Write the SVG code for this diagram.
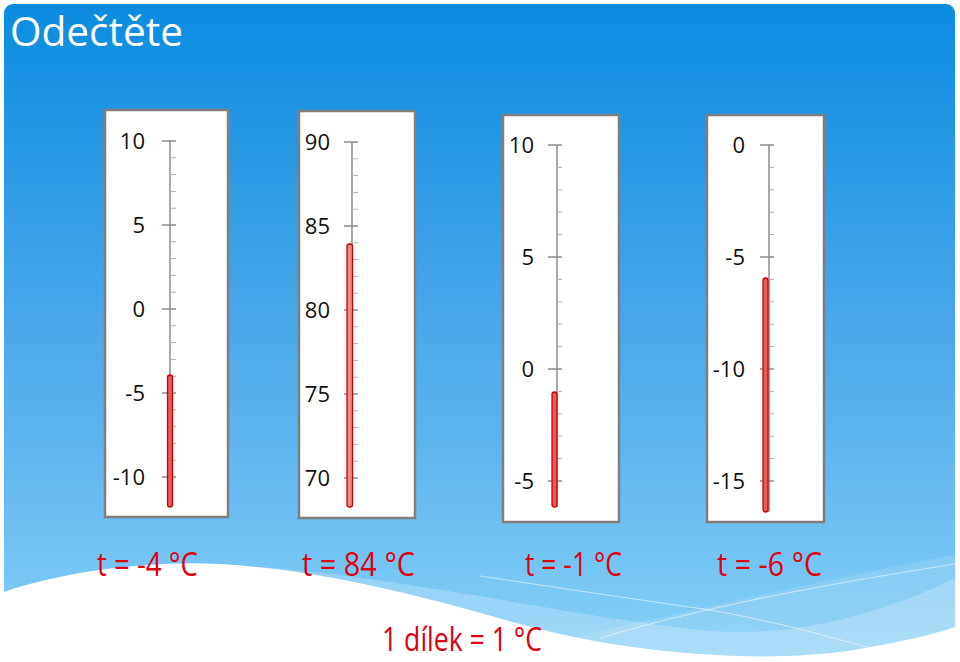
<svg xmlns="http://www.w3.org/2000/svg" width="960" height="662" viewBox="0 0 960 662">
<defs>
<linearGradient id="bg" x1="0" y1="0" x2="0" y2="1">
<stop offset="0" stop-color="#0b8ce0"/>
<stop offset="0.5" stop-color="#4aa8ea"/>
<stop offset="1" stop-color="#86d0f8"/>
</linearGradient>
<path id="minor20" d="M0 16.8h6M0 33.6h6M0 50.4h6M0 67.2h6M0 100.8h6M0 117.6h6M0 134.4h6M0 151.2h6M0 184.8h6M0 201.6h6M0 218.4h6M0 235.2h6M0 268.8h6M0 285.6h6M0 302.4h6M0 319.2h6"/>
<path id="major20" d="M-8 0h14M-8 84h14M-8 168h14M-8 252h14M-8 336h14"/>
<path id="minor15" d="M0 22.4h5M0 44.8h5M0 67.2h5M0 89.6h5M0 134.4h5M0 156.8h5M0 179.2h5M0 201.6h5M0 246.4h5M0 268.8h5M0 291.2h5M0 313.6h5"/>
<path id="major15" d="M-9 0h14M-9 112h14M-9 224h14M-9 336h14"/>
</defs>
<style>
.frame{fill:#ffffff;stroke:#7f7f7f;stroke-width:2.5}
.axis{stroke:#8c8c8c;stroke-width:1.5;fill:none}
.minor{stroke:#b0b0b0;stroke-width:1;fill:none}
.major{stroke:#8c8c8c;stroke-width:1.5;fill:none}
.bar{fill:#e65a5a;stroke:#cc0000;stroke-width:1.3}
.lab{font-family:"Open Sans","Noto Sans",sans-serif;font-size:22px;fill:#111111;text-anchor:end}
.res{font-family:"Open Sans","Noto Sans",sans-serif;font-size:33px;fill:#e0000f}
.title{font-family:"Open Sans","Noto Sans",sans-serif;font-size:41px;fill:#ffffff}
</style>
<rect x="0" y="0" width="960" height="662" fill="#ffffff"/>
<g id="background">
<rect x="4" y="4" width="951" height="656" rx="9" fill="url(#bg)"/>
<path d="M230 565 C400 575 560 615 700 630 C800 640 890 610 955 578 L955 662 L230 662 Z" fill="#ffffff" opacity="0.22"/>
<path d="M520 650 C650 620 820 580 955 555 L955 662 L520 662 Z" fill="#ffffff" opacity="0.12"/>
<path d="M480 576 C560 588 640 600 710 610 C780 622 840 640 885 652" fill="none" stroke="#ffffff" stroke-opacity="0.55" stroke-width="1"/>
<path d="M600 638 C700 608 820 585 955 564" fill="none" stroke="#ffffff" stroke-opacity="0.55" stroke-width="1"/>
<path d="M4 592 C60 572 150 560 220 564 C330 571 420 596 520 624 C620 652 760 666 860 649 C905 641 935 634 955 627 L955 662 L4 662 Z" fill="#ffffff"/>
</g>
<text class="title" x="10" y="46" textLength="173" lengthAdjust="spacingAndGlyphs">Odečtěte</text>
<g id="thermo1">
<rect class="frame" x="105" y="110" width="123" height="407"/>
<path class="axis" d="M170 141V507"/>
<use href="#minor20" class="minor" x="170" y="141"/>
<use href="#major20" class="major" x="170" y="141"/>
<rect class="bar" x="167.5" y="375" width="5" height="132" rx="2.5"/>
<text class="lab" x="145" y="149">10</text>
<text class="lab" x="145" y="233">5</text>
<text class="lab" x="145" y="317">0</text>
<text class="lab" x="145" y="401">-5</text>
<text class="lab" x="145" y="485">-10</text>
</g>
<g id="thermo2">
<rect class="frame" x="299" y="111" width="116" height="407"/>
<path class="axis" d="M352 142V507"/>
<use href="#minor20" class="minor" x="352" y="142"/>
<use href="#major20" class="major" x="352" y="142"/>
<rect class="bar" x="347" y="244" width="5.5" height="263" rx="2.5" style="fill:#ef8a8a"/>
<text class="lab" x="330" y="150">90</text>
<text class="lab" x="330" y="234">85</text>
<text class="lab" x="330" y="318">80</text>
<text class="lab" x="330" y="402">75</text>
<text class="lab" x="330" y="486">70</text>
</g>
<g id="thermo3">
<rect class="frame" x="503" y="115" width="116" height="407"/>
<path class="axis" d="M557 145V507"/>
<use href="#minor15" class="minor" x="557" y="145"/>
<use href="#major15" class="major" x="557" y="145"/>
<rect class="bar" x="552" y="392" width="5" height="115" rx="2.5"/>
<text class="lab" x="534" y="153">10</text>
<text class="lab" x="534" y="265">5</text>
<text class="lab" x="534" y="377">0</text>
<text class="lab" x="534" y="489">-5</text>
</g>
<g id="thermo4">
<rect class="frame" x="707" y="115" width="117" height="407"/>
<path class="axis" d="M769 145V512"/>
<use href="#minor15" class="minor" x="769" y="145"/>
<use href="#major15" class="major" x="769" y="145"/>
<rect class="bar" x="763" y="278" width="5" height="234" rx="2.5"/>
<text class="lab" x="745" y="153">0</text>
<text class="lab" x="745" y="265">-5</text>
<text class="lab" x="745" y="377">-10</text>
<text class="lab" x="745" y="489">-15</text>
</g>
<g id="results">
<text class="res" x="97" y="576" textLength="101" lengthAdjust="spacingAndGlyphs">t = -4 °C</text>
<text class="res" x="302" y="576" textLength="113" lengthAdjust="spacingAndGlyphs">t = 84 °C</text>
<text class="res" x="525" y="576" textLength="97" lengthAdjust="spacingAndGlyphs">t = -1 °C</text>
<text class="res" x="717" y="576" textLength="105" lengthAdjust="spacingAndGlyphs">t = -6 °C</text>
<text class="res" x="382" y="651" textLength="160" lengthAdjust="spacingAndGlyphs">1 dílek = 1 °C</text>
</g>
</svg>
